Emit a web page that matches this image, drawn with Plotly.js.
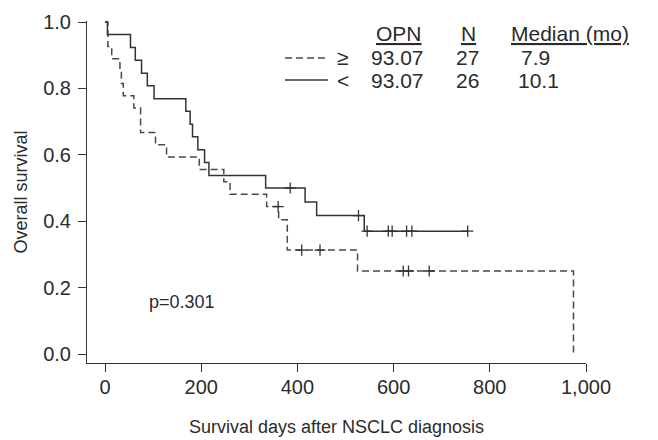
<!DOCTYPE html>
<html>
<head>
<meta charset="utf-8">
<script src="https://cdn.plot.ly/plotly-3.0.1.min.js"></script>
<style>html,body{margin:0;padding:0;background:#fff;}#chart{width:658px;height:440px;}</style>
</head>
<body>
<div id="chart"></div>
<script>
// ---- data ----
// OPN < 93.07 (solid)
const lowTimes = [0, 5, 53, 63, 76, 88, 102, 168, 177, 182, 193, 207, 216, 334, 416, 440, 539, 754];
const lowSurv  = [1, 0.962, 0.923, 0.885, 0.846, 0.808, 0.769, 0.731, 0.692, 0.654, 0.615, 0.577, 0.538, 0.5, 0.458, 0.417, 0.370, 0.370];
const lowCensorTimes = [385, 527, 545, 589, 597, 627, 638, 754];
const lowCensorSurv  = [0.5, 0.417, 0.370, 0.370, 0.370, 0.370, 0.370, 0.370];
// OPN >= 93.07 (dashed)
const highTimes = [0, 6, 14, 31, 34, 38, 60, 74, 105, 128, 196, 247, 260, 336, 361, 379, 525, 974];
const highSurv  = [1, 0.926, 0.889, 0.852, 0.815, 0.778, 0.741, 0.667, 0.630, 0.593, 0.556, 0.519, 0.481, 0.444, 0.404, 0.313, 0.25, 0];
const highCensorTimes = [360, 409, 447, 620, 631, 674];
const highCensorSurv  = [0.444, 0.313, 0.313, 0.25, 0.25, 0.25];

const xTickVals = [0, 200, 400, 600, 800, 1000];
const xTickText = ['0', '200', '400', '600', '800', '1,000'];
const yTickVals = [0, 0.2, 0.4, 0.6, 0.8, 1.0];
const yTickText = ['0.0', '0.2', '0.4', '0.6', '0.8', '1.0'];

const legendHeaders = ['OPN', 'N', 'Median (mo)'];
const groupSymbols = ['\u2265', '<'];
const cutoff = '93.07';
const groupN = ['27', '26'];
const groupMedian = ['7.9', '10.1'];
const pValueText = 'p=0.301';

// ---- layout geometry ----
const W = 658, H = 440;
const M = {l: 87, r: 72, t: 21, b: 77};
const PW = W - M.l - M.r, PH = H - M.t - M.b;
const px = v => (v - M.l) / PW;          // pixel -> paper x
const py = v => (H - M.b - v) / PH;      // pixel -> paper y

const txt = '#2b2b2b';
const FONT = 'Liberation Sans, Arial, sans-serif';
const tickFs = 20, legFs = 21, titleFs = 18, pFs = 18;

const traces = [
  {x: highTimes, y: highSurv, mode: 'lines', line: {shape: 'hv', color: '#4a4a4a', width: 1.5, dash: '7px,4px'}, hoverinfo: 'skip'},
  {x: lowTimes, y: lowSurv, mode: 'lines', line: {shape: 'hv', color: '#333', width: 1.5}, hoverinfo: 'skip'},
  {x: highCensorTimes, y: highCensorSurv, mode: 'markers', marker: {symbol: 'cross-thin', size: 8, line: {color: '#333', width: 1.3}}, hoverinfo: 'skip'},
  {x: lowCensorTimes, y: lowCensorSurv, mode: 'markers', marker: {symbol: 'cross-thin', size: 8, line: {color: '#333', width: 1.3}}, hoverinfo: 'skip'}
];

const ann = [];
const hdrX = [399, 468, 570];
legendHeaders.forEach((h, i) => ann.push({xref: 'paper', yref: 'paper', x: px(hdrX[i]), y: py(33), xanchor: 'center', yanchor: 'middle', showarrow: false, text: h, font: {family: FONT, size: legFs, color: txt, lineposition: 'under'}}));
const rowY = [57, 80];
groupSymbols.forEach((s, i) => {
  ann.push({xref: 'paper', yref: 'paper', x: px(343), y: py(rowY[i]), xanchor: 'center', yanchor: 'middle', showarrow: false, text: s, font: {family: FONT, size: legFs, color: txt}});
  ann.push({xref: 'paper', yref: 'paper', x: px(397), y: py(rowY[i]), xanchor: 'center', yanchor: 'middle', showarrow: false, text: cutoff, font: {family: FONT, size: legFs, color: txt}});
  ann.push({xref: 'paper', yref: 'paper', x: px(467), y: py(rowY[i]), xanchor: 'center', yanchor: 'middle', showarrow: false, text: groupN[i], font: {family: FONT, size: legFs, color: txt}});
  ann.push({xref: 'paper', yref: 'paper', x: px(i === 0 ? 535 : 538), y: py(rowY[i]), xanchor: 'center', yanchor: 'middle', showarrow: false, text: groupMedian[i], font: {family: FONT, size: legFs, color: txt}});
});
ann.push({xref: 'paper', yref: 'paper', x: px(147), y: py(302), xanchor: 'left', yanchor: 'middle', showarrow: false, text: pValueText, font: {family: FONT, size: pFs, color: txt}});

const shapes = [
  {type: 'line', xref: 'paper', yref: 'paper', x0: px(285), x1: px(328), y0: py(58), y1: py(58), line: {color: '#4a4a4a', width: 1.5, dash: '7px,4px'}},
  {type: 'line', xref: 'paper', yref: 'paper', x0: px(285), x1: px(328), y0: py(80), y1: py(80), line: {color: '#333', width: 1.5}}
];

const layout = {
  width: W, height: H,
  margin: M,
  paper_bgcolor: '#fff', plot_bgcolor: '#fff',
  showlegend: false,
  font: {family: FONT, size: tickFs, color: txt},
  xaxis: {
    range: [-(105 - M.l) / 0.481, 1000], tickvals: xTickVals, ticktext: xTickText,
    showgrid: false, zeroline: false, showline: true, linecolor: '#333', linewidth: 1,
    ticks: 'outside', ticklen: 8, tickcolor: '#333', tickwidth: 1,
    tickfont: {family: FONT, size: tickFs, color: txt}, ticklabelstandoff: -2,
    title: {text: 'Survival days after NSCLC diagnosis', font: {family: FONT, size: titleFs, color: txt}, standoff: 23}
  },
  yaxis: {
    range: [-(H - M.b - 354) / 332, 1 + 1 / 332], tickvals: yTickVals, ticktext: yTickText,
    showgrid: false, zeroline: false, showline: true, linecolor: '#333', linewidth: 1,
    ticks: 'outside', ticklen: 8, tickcolor: '#333', tickwidth: 1,
    tickfont: {family: FONT, size: tickFs, color: txt}, ticklabelstandoff: 3,
    title: {text: 'Overall survival', font: {family: FONT, size: titleFs, color: txt}, standoff: 10}
  },
  annotations: ann,
  shapes: shapes
};

Plotly.newPlot('chart', traces, layout, {staticPlot: true, displayModeBar: false});
</script>
</body>
</html>
